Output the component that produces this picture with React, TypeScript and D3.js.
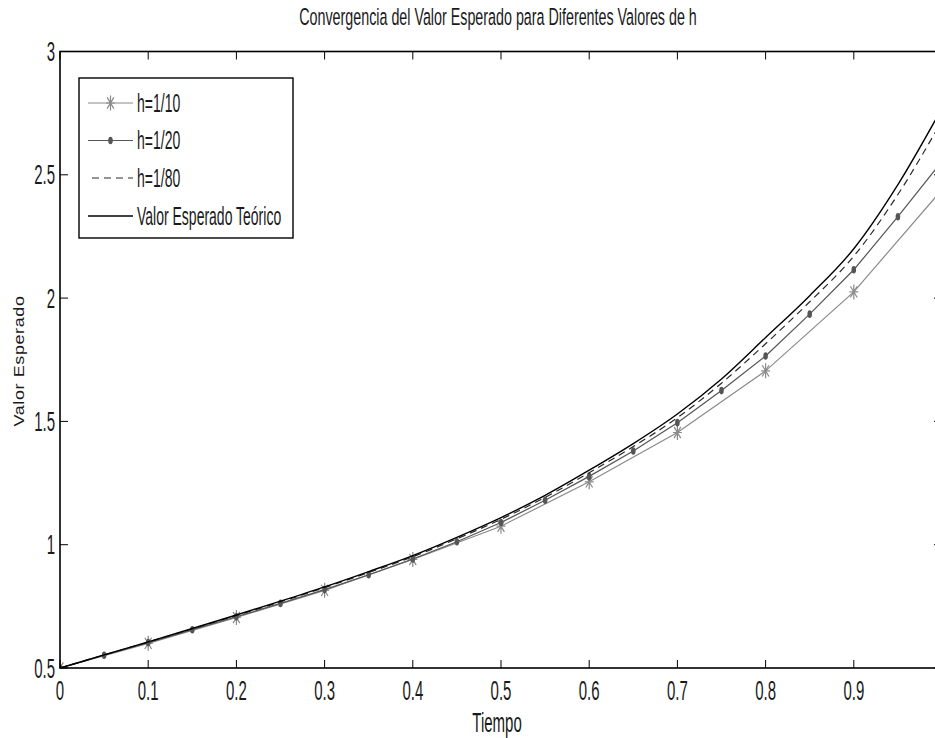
import React from "react";
import * as d3 from "d3";

const W = 935;
const H = 738;

const xTicks = [0, 0.1, 0.2, 0.3, 0.4, 0.5, 0.6, 0.7, 0.8, 0.9, 1];
const xTickLabels = ["0", "0.1", "0.2", "0.3", "0.4", "0.5", "0.6", "0.7", "0.8", "0.9", ""];
const yTicks = [0.5, 1, 1.5, 2, 2.5, 3];
const yTickLabels = ["0.5", "1", "1.5", "2", "2.5", "3"];

const t10 = [0, 0.1, 0.2, 0.3, 0.4, 0.5, 0.6, 0.7, 0.8, 0.9, 1];
const h10 = [0.5, 0.6, 0.705, 0.815, 0.94, 1.075, 1.255, 1.455, 1.705, 2.025, 2.44];

const t20 = [0, 0.05, 0.1, 0.15, 0.2, 0.25, 0.3, 0.35, 0.4, 0.45, 0.5, 0.55, 0.6, 0.65, 0.7, 0.75, 0.8, 0.85, 0.9, 0.95, 1];
const h20 = [0.5, 0.552, 0.603, 0.655, 0.708, 0.762, 0.818, 0.878, 0.942, 1.012, 1.09, 1.18, 1.277, 1.38, 1.495, 1.625, 1.765, 1.935, 2.115, 2.33, 2.555];

const tFine = [0, 0.05, 0.1, 0.15, 0.2, 0.25, 0.3, 0.35, 0.4, 0.45, 0.5, 0.55, 0.6, 0.65, 0.7, 0.75, 0.8, 0.85, 0.9, 0.95, 1];
const h80 = [0.5, 0.553, 0.605, 0.659, 0.713, 0.768, 0.826, 0.887, 0.951, 1.024, 1.103, 1.192, 1.292, 1.398, 1.515, 1.655, 1.815, 1.985, 2.17, 2.42, 2.72];
const theo = [0.5, 0.553, 0.606, 0.66, 0.715, 0.771, 0.829, 0.891, 0.956, 1.03, 1.11, 1.2, 1.302, 1.41, 1.53, 1.672, 1.84, 2.01, 2.2, 2.46, 2.77];

const legendLabels = ["h=1/10", "h=1/20", "h=1/80", "Valor Esperado Teórico"];

const FONT = "'Liberation Sans', Arial, Helvetica, sans-serif";
const SY = 1.8;
const C10 = "#8a8a8a";
const C20 = "#555555";
const C80 = "#2a2a2a";
const CT = "#000000";
const TXT = "#1a1a1a";

function SText({ x, y, fs, sy = SY, anchor = "start", children, fill = TXT }: any) {
  return (
    <g transform={`translate(${x},${y}) scale(1,${sy})`}>
      <text x={0} y={0} fontSize={fs} fontFamily={FONT} textAnchor={anchor} fill={fill}>
        {children}
      </text>
    </g>
  );
}

function Star({ cx, cy, color }: any) {
  const rx = 4.5;
  const ry = 7.5;
  const dx = rx * 0.75;
  const dy = ry * 0.75;
  const d = `M${cx - rx},${cy}L${cx + rx},${cy}M${cx},${cy - ry}L${cx},${cy + ry}M${cx - dx},${cy - dy}L${cx + dx},${cy + dy}M${cx - dx},${cy + dy}L${cx + dx},${cy - dy}`;
  return <path d={d} stroke={color} strokeWidth={1.2} fill="none" />;
}

function Dot({ cx, cy, color }: any) {
  return <ellipse cx={cx} cy={cy} rx={2.3} ry={3.8} fill={color} />;
}

export default function App() {
  const x = d3.scaleLinear().domain([0, 1]).range([60, 942]);
  const y = d3.scaleLinear().domain([0.5, 3]).range([668, 51.5]);

  const lineLin = d3
    .line<[number, number]>()
    .x((d) => x(d[0]))
    .y((d) => y(d[1]));
  const lineSmooth = d3
    .line<[number, number]>()
    .x((d) => x(d[0]))
    .y((d) => y(d[1]))
    .curve(d3.curveMonotoneX);

  const d10 = t10.map((t, i) => [t, h10[i]] as [number, number]);
  const d20 = t20.map((t, i) => [t, h20[i]] as [number, number]);
  const d80 = tFine.map((t, i) => [t, h80[i]] as [number, number]);
  const dT = tFine.map((t, i) => [t, theo[i]] as [number, number]);

  const x0 = x(0);
  const x1 = x(1);
  const yTop = y(3);
  const yBot = y(0.5);
  const tick = 8;

  const legX = 79;
  const legY = 78;
  const legW = 214;
  const legH = 160;
  const rowY = [103, 140.5, 178, 216];
  const sx0 = 88;
  const sx1 = 133;

  return (
    <svg
      width={W}
      height={H}
      style={{ position: "absolute", left: 0, top: 0, display: "block", background: "#fff" }}
    >
      <rect x={0} y={0} width={W} height={H} fill="#fff" />
      <defs>
        <clipPath id="plotclip">
          <rect x={x0} y={yTop} width={x1 - x0} height={yBot - yTop} />
        </clipPath>
      </defs>

      {/* title */}
      <SText x={(x0 + x1) / 2 - 3} y={24.5} fs={14.3} sy={1.7} anchor="middle">
        Convergencia del Valor Esperado para Diferentes Valores de h
      </SText>

      {/* series */}
      <g clipPath="url(#plotclip)">
        <path d={lineLin(d10) || ""} fill="none" stroke={C10} strokeWidth={1.2} />
        {d10.map((d, i) => (
          <Star key={"s" + i} cx={x(d[0])} cy={y(d[1])} color={C10} />
        ))}
        <path d={lineLin(d20) || ""} fill="none" stroke={C20} strokeWidth={1.2} />
        {d20.map((d, i) => (
          <Dot key={"d" + i} cx={x(d[0])} cy={y(d[1])} color={C20} />
        ))}
        <path d={lineSmooth(d80) || ""} fill="none" stroke={C80} strokeWidth={1.2} strokeDasharray="7,5" />
        <path d={lineSmooth(dT) || ""} fill="none" stroke={CT} strokeWidth={1.4} />
      </g>

      {/* axes box */}
      <rect x={x0} y={yTop} width={x1 - x0} height={yBot - yTop} fill="none" stroke="#000" strokeWidth={1.6} />

      {/* x ticks */}
      {xTicks.map((t, i) => (
        <g key={"xt" + i}>
          <line x1={x(t)} x2={x(t)} y1={yBot} y2={yBot - tick} stroke="#000" strokeWidth={1} />
          <line x1={x(t)} x2={x(t)} y1={yTop} y2={yTop + tick} stroke="#000" strokeWidth={1} />
          {xTickLabels[i] ? (
            <SText x={x(t)} y={699.5} fs={15} anchor="middle">
              {xTickLabels[i]}
            </SText>
          ) : null}
        </g>
      ))}

      {/* y ticks */}
      {yTicks.map((v, i) => (
        <g key={"yt" + i}>
          <line x1={x0} x2={x0 + tick} y1={y(v)} y2={y(v)} stroke="#000" strokeWidth={1} />
          <line x1={x1} x2={x1 - tick} y1={y(v)} y2={y(v)} stroke="#000" strokeWidth={1} />
          <SText x={55} y={y(v) + 9.5} fs={15} anchor="end">
            {yTickLabels[i]}
          </SText>
        </g>
      ))}

      {/* axis labels */}
      <SText x={(x0 + x1) / 2 - 4} y={732} fs={15} anchor="middle">
        Tiempo
      </SText>
      <g transform={`translate(24,361) scale(1,1.2) rotate(-90)`}>
        <text x={0} y={0} fontSize={15} fontFamily={FONT} textAnchor="middle" fill={TXT} letterSpacing={0.5}>
          Valor Esperado
        </text>
      </g>

      {/* legend */}
      <rect x={legX} y={legY} width={legW} height={legH} fill="#fff" stroke="#000" strokeWidth={1.4} />
      <line x1={sx0} x2={sx1} y1={rowY[0]} y2={rowY[0]} stroke={C10} strokeWidth={1.2} />
      <Star cx={(sx0 + sx1) / 2} cy={rowY[0]} color={C10} />
      <line x1={sx0} x2={sx1} y1={rowY[1]} y2={rowY[1]} stroke={C20} strokeWidth={1.2} />
      <Dot cx={(sx0 + sx1) / 2} cy={rowY[1]} color={C20} />
      <line x1={sx0 + 4} x2={sx1} y1={rowY[2]} y2={rowY[2]} stroke={C80} strokeWidth={1.2} strokeDasharray="7,5" />
      <line x1={sx0} x2={sx1} y1={rowY[3]} y2={rowY[3]} stroke={CT} strokeWidth={1.4} />
      {legendLabels.map((l, i) => (
        <SText key={"lg" + i} x={137} y={rowY[i] + 8.5} fs={14} anchor="start">
          {l}
        </SText>
      ))}
    </svg>
  );
}
